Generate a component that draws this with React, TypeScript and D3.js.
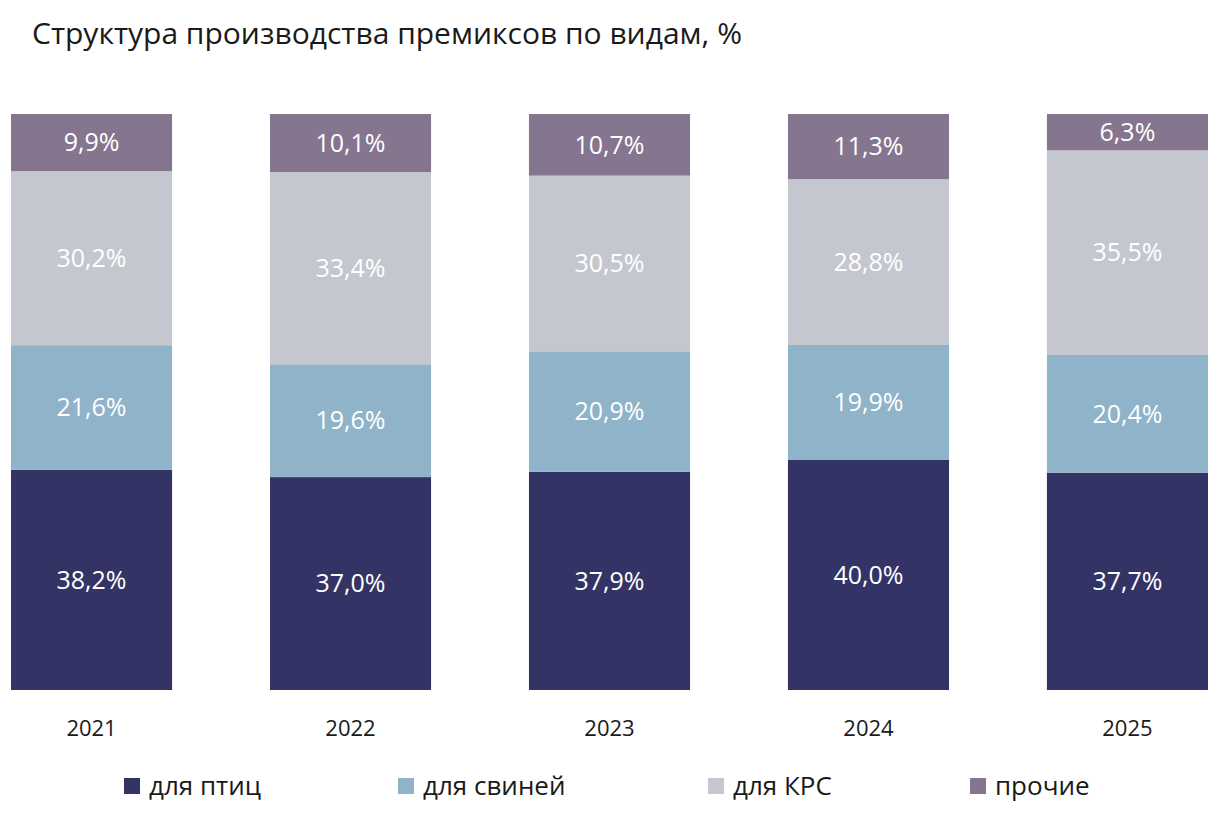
import React, { useEffect, useRef } from "react";
import * as d3 from "d3";

const years = ["2021", "2022", "2023", "2024", "2025"];
const birds = [38.2, 37.0, 37.9, 40.0, 37.7];
const pigs = [21.6, 19.6, 20.9, 19.9, 20.4];
const cattle = [30.2, 33.4, 30.5, 28.8, 35.5];
const other = [9.9, 10.1, 10.7, 11.3, 6.3];
const seriesNames = ["для птиц", "для свиней", "для КРС", "прочие"];
const colors = ["#343366", "#8fb3c9", "#c4c7cf", "#85758f"];

const W = 1218;
const H = 819;
const FONT = "'Open Sans', 'Noto Sans', sans-serif";

const App: React.FC = () => {
  const svgRef = useRef<SVGSVGElement | null>(null);

  useEffect(() => {
    if (!svgRef.current) return;
    const svg = d3.select(svgRef.current);
    svg.selectAll("*").remove();

    const rows = years.map((y, i) => ({
      year: y,
      s0: birds[i],
      s1: pigs[i],
      s2: cattle[i],
      s3: other[i],
    }));
    const keys = ["s0", "s1", "s2", "s3"];
    const stack = d3.stack<any>().keys(keys).offset(d3.stackOffsetExpand);
    const series = stack(rows);

    const x = d3.scaleBand<string>().domain(years).range([11, 1208]).paddingInner(0.378).paddingOuter(0);
    const y = d3.scaleLinear().domain([0, 1]).range([690, 114]);

    svg
      .append("text")
      .attr("x", 32)
      .attr("y", 44)
      .attr("font-family", FONT)
      .attr("font-size", 30)
      .attr("fill", "#1a1a1a")
      .text("Структура производства премиксов по видам, %");

    series.forEach((s, si) => {
      const g = svg.append("g");
      g.selectAll("rect")
        .data(s)
        .enter()
        .append("rect")
        .attr("x", (d: any) => x(d.data.year)!)
        .attr("y", (d) => y(d[1]))
        .attr("width", x.bandwidth())
        .attr("height", (d) => y(d[0]) - y(d[1]))
        .attr("fill", colors[si]);
      g.selectAll("text")
        .data(s)
        .enter()
        .append("text")
        .attr("x", (d: any) => x(d.data.year)! + x.bandwidth() / 2)
        .attr("y", (d) => (y(d[0]) + y(d[1])) / 2)
        .attr("dy", "0.35em")
        .attr("text-anchor", "middle")
        .attr("font-family", FONT)
        .attr("font-size", 25)
        .attr("fill", "#ffffff")
        .text((d: any) => d.data[keys[si]].toFixed(1).replace(".", ",") + "%");
    });

    svg
      .append("g")
      .selectAll("text")
      .data(years)
      .enter()
      .append("text")
      .attr("x", (d) => x(d)! + x.bandwidth() / 2)
      .attr("y", 736)
      .attr("text-anchor", "middle")
      .attr("font-family", FONT)
      .attr("font-size", 22)
      .attr("fill", "#1a1a1a")
      .text((d) => d);

    const legendX = [124, 398, 708, 970];
    const lg = svg.append("g");
    seriesNames.forEach((n, i) => {
      lg.append("rect")
        .attr("x", legendX[i])
        .attr("y", 778)
        .attr("width", 16)
        .attr("height", 16)
        .attr("fill", colors[i]);
      lg.append("text")
        .attr("x", legendX[i] + 25)
        .attr("y", 795)
        .attr("font-family", FONT)
        .attr("font-size", 26)
        .attr("fill", "#1a1a1a")
        .text(n);
    });
  }, []);

  return (
    <svg
      ref={svgRef}
      width={W}
      height={H}
      style={{ position: "absolute", top: 0, left: 0, background: "#fff" }}
    />
  );
};

export default App;
